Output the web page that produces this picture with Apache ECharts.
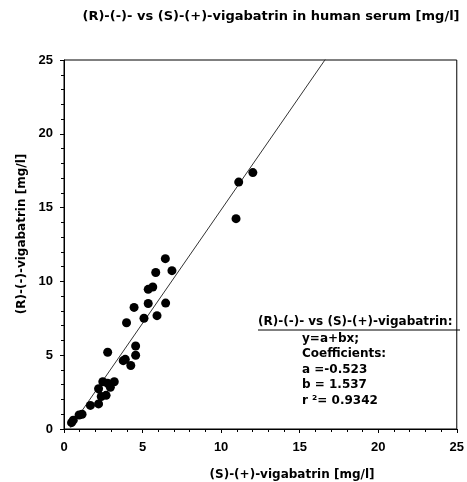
<!DOCTYPE html>
<html>
<head>
<meta charset="utf-8">
<script src="https://cdn.jsdelivr.net/npm/echarts@6/dist/echarts.min.js"></script>
<style>
  html, body { margin: 0; padding: 0; background: #fff; }
  #chart { width: 467px; height: 482px; }
</style>
</head>
<body>
<div id="chart"></div>
<script>
// (S)-(+)-vigabatrin [mg/l] vs (R)-(-)-vigabatrin [mg/l]
const sValues = [0.48, 0.59, 0.96, 1.15, 1.68, 2.2, 2.37, 2.68, 2.2, 2.47, 2.78, 2.95, 3.2,
  2.78, 3.77, 3.9, 4.25, 4.56, 4.56, 3.98, 4.46, 5.09, 5.36, 5.92, 6.47, 5.36, 5.65,
  5.84, 6.87, 6.45, 11.12, 12.02, 10.95]
const rValues = [0.43, 0.6, 0.95, 1.0, 1.6, 1.7, 2.2, 2.28, 2.73, 3.2, 3.1, 2.83, 3.2,
  5.2, 4.63, 4.72, 4.3, 5.0, 5.62, 7.2, 8.24, 7.5, 8.5, 7.68, 8.53, 9.46, 9.62,
  10.6, 10.73, 11.54, 16.73, 17.37, 14.25]
const coefA = -0.523
const coefB = 1.537
const r2 = 0.9342
const fitRange = [0.4, 25]
const tickValues = [0, 5, 10, 15, 20, 25]

const points = sValues.map((s, i) => [s, rValues[i]])
const fitLine = fitRange.map(x => [x, coefA + coefB * x])

const font = 'Liberation Sans, Arial, sans-serif'
const wideFont = 'DejaVu Sans, Verdana, sans-serif'
const chart = echarts.init(document.getElementById('chart'))

const axisCommon = {
  type: 'value',
  min: tickValues[0],
  max: tickValues[tickValues.length - 1],
  interval: 5,
  splitLine: { show: false },
  axisLine: { show: true, onZero: false, lineStyle: { color: '#000', width: 1 } },
  axisTick: { show: true, inside: false, length: 4, lineStyle: { color: '#000' } },
  minorTick: { show: true, splitNumber: 5, length: 3, lineStyle: { color: '#000' } },
  axisLabel: { color: '#000', fontFamily: font, fontWeight: 'bold', fontSize: 13 }
}

chart.setOption({
  animation: false,
  backgroundColor: '#fff',
  grid: {
    left: 64, top: 60, width: 398, height: 369,
    show: true, borderColor: '#000', borderWidth: 1, backgroundColor: 'transparent'
  },
  xAxis: Object.assign({}, axisCommon, {
    axisLabel: Object.assign({}, axisCommon.axisLabel, { margin: 12 })
  }),
  yAxis: Object.assign({}, axisCommon, {
    axisLabel: Object.assign({}, axisCommon.axisLabel, { margin: 11 })
  }),
  graphic: [
    {
      type: 'text', x: 271, y: 17,
      style: { text: '(R)-(-)- vs (S)-(+)-vigabatrin in human serum [mg/l]', font: 'bold 13px ' + wideFont, fill: '#000', align: 'center', verticalAlign: 'middle' }
    },
    {
      type: 'text', x: 292, y: 475,
      style: { text: '(S)-(+)-vigabatrin [mg/l]', font: 'bold 12px ' + wideFont, fill: '#000', align: 'center', verticalAlign: 'middle' }
    },
    {
      type: 'text', x: 22, y: 234, rotation: Math.PI / 2,
      style: { text: '(R)-(-)-vigabatrin [mg/l]', font: 'bold 12px ' + wideFont, fill: '#000', align: 'center', verticalAlign: 'middle' }
    },
    {
      type: 'text', x: 258, y: 322,
      style: { text: '(R)-(-)- vs (S)-(+)-vigabatrin:', font: 'bold 12px ' + wideFont, fill: '#000', verticalAlign: 'middle' }
    },
    {
      type: 'line', shape: { x1: 258, y1: 330, x2: 460, y2: 330 },
      style: { stroke: '#000', lineWidth: 1 }
    },
    {
      type: 'text', x: 302, y: 331,
      style: {
        text: 'y=a+bx;\nCoefficients:\na =' + coefA.toFixed(3) + '\nb = ' + coefB.toFixed(3) + '\nr \u00b2= ' + r2.toFixed(4),
        font: 'bold 12px ' + wideFont, fill: '#000', lineHeight: 15.5
      }
    }
  ],
  series: [
    {
      type: 'line',
      data: fitLine,
      showSymbol: false,
      symbol: 'none',
      clip: true,
      lineStyle: { color: '#333', width: 1 },
      z: 2
    },
    {
      type: 'scatter',
      data: points,
      symbol: 'circle',
      symbolSize: 9,
      itemStyle: { color: '#000', opacity: 1 },
      z: 3
    }
  ]
})
</script>
</body>
</html>
